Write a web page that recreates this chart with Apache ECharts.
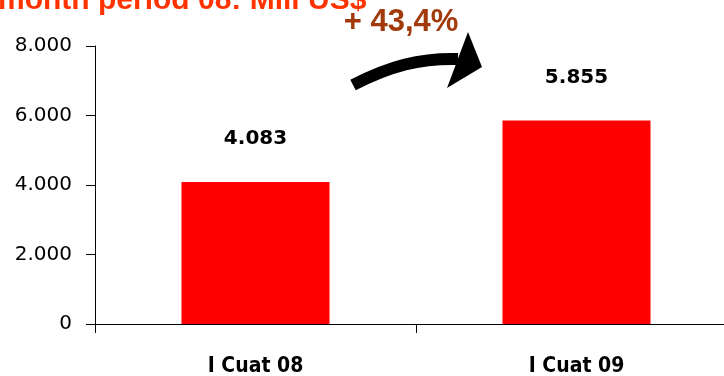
<!DOCTYPE html>
<html>
<head>
<meta charset="utf-8">
<script src="https://cdn.jsdelivr.net/npm/echarts@6/dist/echarts.min.js"></script>
<style>
  html, body { margin: 0; padding: 0; background: #fff; }
  #chart { width: 724px; height: 376px; }
</style>
</head>
<body>
<div id="chart"></div>
<script>
const categories = ['I Cuat 08', 'I Cuat 09'];
const sales = [4083, 5855];
const yTicks = [0, 2000, 4000, 6000, 8000];
const titleText = 'month period 08: Mill US$';
const growthText = '+ 43,4%';

// 4083 -> "4.083"
const fmt = v => String(v).replace(/\B(?=(\d{3})+(?!\d))/g, '.');

const chart = echarts.init(document.getElementById('chart'));

chart.setOption({
  animation: false,
  grid: { left: 95, top: 46, bottom: 52, right: -13, outerBoundsMode: 'none' },
  xAxis: {
    type: 'category',
    data: categories,
    axisLine: { lineStyle: { color: '#000', width: 1 } },
    axisTick: { show: true, length: 9, lineStyle: { color: '#000' } },
    axisLabel: {
      margin: 32,
      color: '#000',
      fontSize: 21,
      fontWeight: 'bold',
      fontFamily: 'DejaVu Sans Condensed, DejaVu Sans'
    }
  },
  yAxis: {
    type: 'value',
    min: yTicks[0],
    max: yTicks[yTicks.length - 1],
    interval: yTicks[1] - yTicks[0],
    axisLine: { show: true, lineStyle: { color: '#000', width: 1 } },
    axisTick: { show: true, length: 9, lineStyle: { color: '#000' } },
    splitLine: { show: false },
    axisLabel: {
      margin: 23,
      color: '#000',
      fontSize: 20,
      fontFamily: 'DejaVu Sans',
      formatter: v => fmt(v)
    }
  },
  series: [{
    type: 'bar',
    data: sales,
    barWidth: 148,
    itemStyle: { color: '#ff0000' },
    label: {
      show: true,
      position: 'top',
      distance: 33,
      color: '#000',
      fontSize: 20,
      fontWeight: 'bold',
      fontFamily: 'DejaVu Sans',
      formatter: p => fmt(p.value)
    }
  }],
  graphic: [
    {
      type: 'text',
      x: -2, y: 16,
      style: {
        text: titleText,
        fill: '#ff3300',
        font: 'bold 30px "Liberation Sans", Arial, sans-serif',
        verticalAlign: 'bottom'
      }
    },
    {
      type: 'text',
      x: 401, y: 22,
      style: {
        text: growthText,
        fill: '#a33a0c',
        font: 'bold 31px "Liberation Sans", Arial, sans-serif',
        align: 'center',
        verticalAlign: 'middle'
      }
    },
    {
      type: 'bezierCurve',
      shape: { x1: 353, y1: 85, cpx1: 390, cpy1: 66, cpx2: 420, cpy2: 58, x2: 458, y2: 59 },
      style: { stroke: '#000', lineWidth: 12, fill: null }
    },
    {
      type: 'polygon',
      shape: { points: [[468, 32], [482, 67], [447, 88]] },
      style: { fill: '#000' }
    }
  ]
});
</script>
</body>
</html>
